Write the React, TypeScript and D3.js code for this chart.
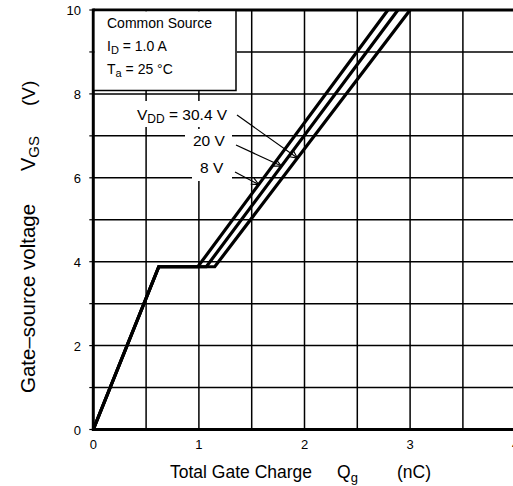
import React from "react";
import * as d3 from "d3";

const xTicks = [0, 1, 2, 3, 4];
const yTicks = [0, 2, 4, 6, 8, 10];
const xGrid = [0.5, 1, 1.5, 2, 2.5, 3, 3.5];
const yGrid = [1, 2, 3, 4, 5, 6, 7, 8, 9];

const vddNames = ["8 V", "20 V", "30.4 V"];
const rampEndQ = 0.62;
const plateauV = 3.88;
const plateauEndQ = [0.99, 1.07, 1.15];
const topQ = [2.79, 2.885, 3.0];
const topV = 10;
// arrow target voltage on each curve
const arrowTargetV = [5.84, 6.28, 6.47];

const W = 513;
const H = 486;
const FONT = "'Liberation Sans', Arial, sans-serif";

export default function App() {
  const x = d3.scaleLinear().domain([0, 4]).range([93.3, 515.7]);
  const y = d3.scaleLinear().domain([0, 10]).range([429.5, 10]);
  const line = d3
    .line<[number, number]>()
    .x((d) => x(d[0]))
    .y((d) => y(d[1]));

  const curves = plateauEndQ.map((pq, i) => [
    [0, 0],
    [rampEndQ, plateauV],
    [pq, plateauV],
    [topQ[i], topV],
  ] as [number, number][]);

  const qAt = (i: number, v: number) =>
    plateauEndQ[i] + ((v - plateauV) * (topQ[i] - plateauEndQ[i])) / (topV - plateauV);

  const labelInfo = [
    { i: 0, tx: 200, ty: 173, ax: 235, ay: 172 },
    { i: 1, tx: 193, ty: 146, ax: 236, ay: 145 },
    { i: 2, tx: 137, ty: 119.5, ax: 237, ay: 115 },
  ];

  const arrowHead = (x1: number, y1: number, x2: number, y2: number) => {
    const ang = Math.atan2(y2 - y1, x2 - x1);
    const L = 8;
    const a = 0.45;
    const p1 = [x2 - L * Math.cos(ang - a), y2 - L * Math.sin(ang - a)];
    const p2 = [x2 - L * Math.cos(ang + a), y2 - L * Math.sin(ang + a)];
    return `M${p1[0]},${p1[1]}L${x2},${y2}L${p2[0]},${p2[1]}`;
  };

  return (
    <svg
      width={W}
      height={H}
      style={{ position: "absolute", left: 0, top: 0, background: "#fff" }}
      fontFamily={FONT}
    >
      <rect x={0} y={0} width={W} height={H} fill="#fff" />
      {/* grid */}
      {xGrid.map((g) => (
        <line key={"xg" + g} x1={x(g)} x2={x(g)} y1={y(0)} y2={y(10)} stroke="#000" strokeWidth={1.5} />
      ))}
      {yGrid.map((g) => (
        <line key={"yg" + g} x1={x(0)} x2={W + 10} y1={y(g)} y2={y(g)} stroke="#000" strokeWidth={1.5} />
      ))}
      {/* left ticks */}
      {yGrid.concat([0, 10]).map((g) => (
        <line key={"lt" + g} x1={x(0) - 4} x2={x(0)} y1={y(g)} y2={y(g)} stroke="#000" strokeWidth={1.2} />
      ))}
      {/* label backgrounds */}
      <rect x={128} y={101} width={110} height={26} fill="#fff" />
      <rect x={185} y={129} width={47} height={22} fill="#fff" />
      <rect x={192} y={151} width={40} height={30} fill="#fff" />
      {/* curves */}
      {curves.map((c, i) => (
        <path key={"c" + i} d={line(c) || ""} fill="none" stroke="#000" strokeWidth={3.2} strokeLinejoin="miter" />
      ))}
      {/* frame */}
      <line x1={x(0)} x2={x(0)} y1={y(0) + 1.5} y2={y(10) - 1.5} stroke="#000" strokeWidth={3} />
      <line x1={x(0)} x2={W + 10} y1={y(0)} y2={y(0)} stroke="#000" strokeWidth={3} />
      <line x1={x(0)} x2={W + 10} y1={y(10)} y2={y(10)} stroke="#000" strokeWidth={3} />
      {/* legend box */}
      <rect x={x(0) + 1.5} y={y(10) + 1.5} width={142} height={79} fill="#fff" stroke="none" />
      <path d={`M${x(0)},${y(10) + 80.5}H236V${y(10)}`} fill="none" stroke="#000" strokeWidth={1.5} />
      <text x={107} y={28} fontSize={14}>Common Source</text>
      <text x={107} y={51} fontSize={14}>
        I<tspan fontSize={11} dy={3}>D</tspan>
        <tspan dy={-3}> = 1.0 A</tspan>
      </text>
      <text x={107} y={74} fontSize={14}>
        T<tspan fontSize={11} dy={3}>a</tspan>
        <tspan dy={-3}> = 25 °C</tspan>
      </text>
      {/* VDD labels and arrows */}
      {labelInfo.map((l) => {
        const txv = x(qAt(l.i, arrowTargetV[l.i]));
        const tyv = y(arrowTargetV[l.i]);
        return (
          <g key={"lab" + l.i}>
            {l.i === 2 ? (
              <text x={l.tx} y={l.ty} fontSize={15.5}>
                V<tspan fontSize={12} dy={3}>DD</tspan>
                <tspan dy={-3}> = {vddNames[l.i]}</tspan>
              </text>
            ) : (
              <text x={l.tx} y={l.ty} fontSize={15.5}>{vddNames[l.i]}</text>
            )}
            <line x1={l.ax} y1={l.ay} x2={txv} y2={tyv} stroke="#000" strokeWidth={1.2} />
            <path d={arrowHead(l.ax, l.ay, txv, tyv)} fill="none" stroke="#000" strokeWidth={1.2} />
          </g>
        );
      })}
      {/* tick labels */}
      {yTicks.map((t) => (
        <text key={"yt" + t} x={81} y={y(t) + 5} fontSize={13} textAnchor="end">{t}</text>
      ))}
      {xTicks.map((t) => (
        <text key={"xt" + t} x={x(t)} y={449} fontSize={13} textAnchor="middle">{t}</text>
      ))}
      {/* axis titles */}
      <text x={170} y={478} fontSize={17.5}>Total Gate Charge</text>
      <text x={337} y={478} fontSize={17.5}>
        Q<tspan fontSize={13} dy={4}>g</tspan>
      </text>
      <text x={397} y={478} fontSize={17.5}>(nC)</text>
      <g transform="translate(35,0)">
        <text transform="translate(0,393) rotate(-90)" fontSize={20.5}>Gate–source voltage</text>
        <text transform="translate(0,171) rotate(-90)" fontSize={20}>
          V<tspan fontSize={15} dy={4}>GS</tspan>
        </text>
        <text transform="translate(0,106) rotate(-90)" fontSize={19}>(V)</text>
      </g>
    </svg>
  );
}
